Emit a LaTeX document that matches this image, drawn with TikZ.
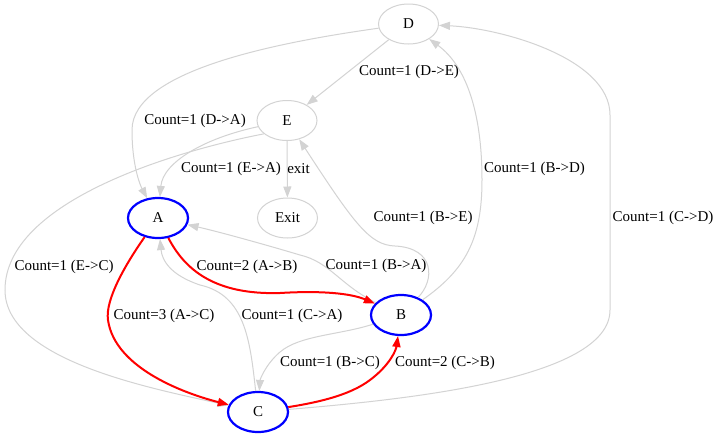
\documentclass[tikz,border=0pt]{standalone}
\usepackage{fontspec}
\setmainfont{Liberation Serif}
\usetikzlibrary{arrows.meta,shapes.geometric}
\definecolor{lg}{RGB}{211,211,211}
\begin{document}
\begin{tikzpicture}[x=1pt,y=-1pt,
  every node/.style={font=\fontsize{15}{18}\selectfont},
  gnode/.style={ellipse, draw=lg, line width=1pt, minimum width=60pt, minimum height=40pt, inner sep=0pt},
  bnode/.style={gnode, draw=blue, line width=2.2pt},
  gedge/.style={draw=lg, line width=1pt, -{Triangle[length=11pt,width=8pt]}},
  redge/.style={draw=red, line width=2pt, -{Triangle[length=11pt,width=8pt]}},
  lbl/.style={inner sep=0pt}
]
\fill[white] (0,0) rectangle (720,437);
\useasboundingbox (0,0) rectangle (720,437);

% nodes
\node[gnode] (D) at (408.5,24) {D};
\node[gnode] (E) at (287,120.5) {E};
\node[bnode] (A) at (158,218) {A};
\node[gnode] (X) at (287.5,218) {Exit};
\node[bnode] (B) at (401,315) {B};
\node[bnode] (C) at (258,412) {C};

% gray edges
\draw[gedge] (D) .. controls (280,42) and (132,70) .. (132,130) .. controls (132,165) and (140,185) .. (A);
\draw[gedge] (D) -- (E);
\draw[gedge] (E) .. controls (205,138) and (163,162) .. (A);
\draw[gedge] (E) -- (X);
\draw[gedge] (E.210) .. controls (180,150) and (5,200) .. (5,290) .. controls (5,360) and (150,388) .. (C);
\draw[gedge] (B) .. controls (340,285) and (330,262) .. (300,255) .. controls (270,246) and (220,232) .. (A);
\draw[gedge] (B) .. controls (435,280) and (435,248) .. (395,246) .. controls (370,245) and (355,225) .. (E);
\draw[gedge] (B) .. controls (465,270) and (482,240) .. (482,180) .. controls (482,110) and (465,65) .. (D);
\draw[gedge] (C) .. controls (250,340) and (245,295) .. (200,285) .. controls (170,275) and (162,260) .. (A);
\draw[gedge] (B) .. controls (340,335) and (300,335) .. (280,352) .. controls (265,365) and (260,380) .. (C);
\draw[gedge] (C) .. controls (400,400) and (610,380) .. (610,310) -- (610,115) .. controls (610,58) and (500,28) .. (D);

% red edges
\draw[redge] (A) .. controls (185,270) and (215,295) .. (280,293) .. controls (330,290) and (355,295) .. (B);
\draw[redge] (A) .. controls (125,265) and (105,300) .. (108,320) .. controls (115,370) and (190,395) .. (C);
\draw[redge] (C) .. controls (320,402) and (350,395) .. (370,380) .. controls (390,365) and (396,350) .. (B);

% labels
\node[lbl] (lDA) at (195,121) {Count=1 (D->A)};
\node[lbl] (lDE) at (409,72) {Count=1 (D->E)};
\node[lbl] (lEA) at (231,169) {Count=1 (E->A)};
\node[lbl] (lEX) at (298.5,169) {exit};
\node[lbl] (lEC) at (64,267) {Count=1 (E->C)};
\node[lbl] (lAB) at (247,267) {Count=2 (A->B)};
\node[lbl] (lBA) at (376,266) {Count=1 (B->A)};
\node[lbl] (lAC) at (164,316) {Count=3 (A->C)};
\node[lbl] (lCA) at (292,316) {Count=1 (C->A)};
\node[lbl] (lBC) at (330,363) {Count=1 (B->C)};
\node[lbl] (lCB) at (445,363) {Count=2 (C->B)};
\node[lbl] (lBE) at (423,218) {Count=1 (B->E)};
\node[lbl] (lBD) at (534.5,169) {Count=1 (B->D)};
\node[lbl] (lCD) at (663,218) {Count=1 (C->D)};
\end{tikzpicture}
\end{document}
